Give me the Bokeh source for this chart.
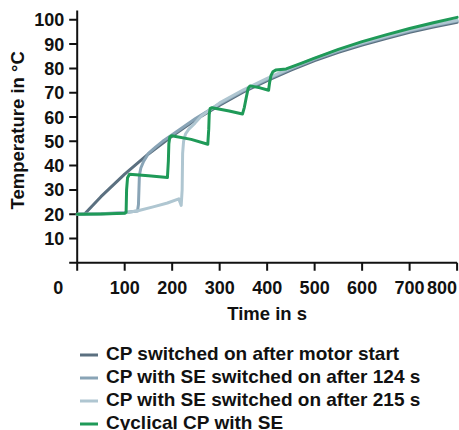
import math
from bokeh.plotting import figure
from bokeh.models import Range1d, Legend, LegendItem
from bokeh.core.properties import value
from bokeh.embed import file_html
from bokeh.resources import INLINE

# ---- data ----
t_dark = [0, 15, 50, 100, 150, 200, 250, 300, 350, 400, 450, 500, 550, 600, 650, 700, 750, 800]
T_dark = [20, 20, 27.2, 36.5, 44.8, 52.2, 59.0, 64.9, 70.3, 75.0, 79.3, 83.2, 86.6, 89.6, 92.3, 94.9, 97.0, 99.0]

t_med = [0, 50, 100, 127, 129, 130, 131, 134, 140, 150, 165, 180, 200, 250, 300, 350, 400, 450, 500, 550, 600, 650, 700, 750, 800]
T_med = [20, 20.2, 20.7, 21.3, 24, 30, 36, 39, 41.8, 45, 47.6, 50, 52.7, 59.5, 65.4, 70.8, 75.5, 79.8, 83.7, 87.1, 90.1, 92.8, 95.4, 97.5, 99.5]

t_light = [0, 50, 100, 130, 160, 190, 214, 219, 221, 222, 224, 228, 235, 248, 262, 300, 350, 400, 450, 500, 550, 600, 650, 700, 750, 800]
T_light = [20, 20.1, 20.5, 21.5, 23, 24.6, 26.3, 23.6, 30, 45, 50, 53, 55, 57.5, 60.5, 65.8, 71.2, 75.9, 80.2, 84.1, 87.5, 90.5, 93.2, 95.8, 97.9, 99.8]

t_green = [0, 50, 100, 103, 104, 106, 110, 150, 190, 192, 193, 195, 199, 240, 275, 277, 278, 280, 284, 320, 348,
           352, 356, 360, 364, 385, 403, 405, 408, 412, 418, 440, 470, 500, 550, 600, 650, 700, 750, 800]
T_green = [20, 20.1, 20.4, 20.8, 30, 35, 36.4, 35.8, 35.1, 42, 49, 51.8, 52.3, 50.8, 48.8, 55, 61, 63.5, 63.8, 62.5, 61.2,
           64, 68, 71.8, 72.8, 72, 71, 74, 77, 78.6, 79.3, 79.8, 82, 84.2, 87.8, 91, 93.8, 96.4, 98.8, 101]

series_names = ["CP switched on after motor start",
                "CP with SE switched on after 124 s",
                "CP with SE switched on after 215 s",
                "Cyclical CP with SE"]
colors = ["#5b7080", "#89a4b6", "#afc6d1", "#1f9a58"]

x_ticks = [0, 100, 200, 300, 400, 500, 600, 700, 800]
y_ticks = [0, 10, 20, 30, 40, 50, 60, 70, 80, 90, 100]
x_title = "Time in s"
y_title = "Temperature in °C"

# ---- layout constants (pixels) ----
W, H = 459, 430
ORIGIN_X, ORIGIN_Y = 76.7, 262.3      # canvas position of (0, 0)
PX_PER_X = 379.9 / 800
PX_PER_Y = 2.43
AXIS_TOP = 103.8
FONT = value("Liberation Sans")
INK = "#111111"

x0 = -ORIGIN_X / PX_PER_X
y1 = ORIGIN_Y / PX_PER_Y
p = figure(width=W, height=H, output_backend="svg", toolbar_location=None,
           x_range=Range1d(x0, x0 + W / PX_PER_X), y_range=Range1d(y1 - H / PX_PER_Y, y1),
           min_border=0, x_axis_type=None, y_axis_type=None)
p.outline_line_color = None
p.grid.visible = False
p.background_fill_color = "white"
p.border_fill_color = "white"

# axes drawn from the tick lists
p.segment(x0=[x_ticks[0]], y0=[y_ticks[0]], x1=[x_ticks[-1]], y1=[y_ticks[0]], line_color=INK, line_width=2)
p.segment(x0=[x_ticks[0]], y0=[y_ticks[0]], x1=[x_ticks[0]], y1=[AXIS_TOP], line_color=INK, line_width=2)
p.ray(x=x_ticks, y=[y_ticks[0]] * len(x_ticks), length=8, length_units="screen", angle=-math.pi / 2,
      line_color=INK, line_width=2)
p.ray(x=[x_ticks[0]] * len(y_ticks), y=y_ticks, length=8, length_units="screen", angle=math.pi,
      line_color=INK, line_width=2)

tick_style = dict(text_font=FONT, text_font_style="bold", text_font_size="18px", text_color=INK,
                  text_baseline="middle")
p.text(x=[x_ticks[0]] * (len(y_ticks) - 1), y=y_ticks[1:], text=[str(v) for v in y_ticks[1:]],
       x_offset=-13, text_align="right", **tick_style)
p.text(x=x_ticks[1:-1], y=[y_ticks[0]] * (len(x_ticks) - 2), text=[str(v) for v in x_ticks[1:-1]],
       y_offset=25, text_align="center", **tick_style)
p.text(x=[x_ticks[0]], y=[y_ticks[0]], text=[str(x_ticks[0])], x_offset=-19, y_offset=25,
       text_align="center", **tick_style)
p.text(x=[x_ticks[-1]], y=[y_ticks[0]], text=[str(x_ticks[-1])], x_offset=0, y_offset=25,
       text_align="right", **tick_style)

title_style = dict(text_font=FONT, text_font_style="bold", text_font_size="18.5px", text_color=INK,
                   text_baseline="middle", text_align="center")
p.text(x=[(x_ticks[0] + x_ticks[-1]) / 2], y=[y_ticks[0]], text=[x_title], y_offset=51, **title_style)
p.text(x=[x_ticks[0]], y=[(y_ticks[0] + y_ticks[-1]) / 2], text=[y_title], x_offset=-60, y_offset=-11,
       angle=math.pi / 2, **title_style)

renderers = []
for tx, ty, c in zip([t_dark, t_med, t_light, t_green], [T_dark, T_med, T_light, T_green], colors):
    r = p.line(tx, ty, line_color=c, line_width=3, line_join="round", line_cap="round")
    renderers.append(r)

legend = Legend(items=[LegendItem(label=n, renderers=[r]) for n, r in zip(series_names, renderers)],
                location=(80, -4), orientation="vertical",
                label_text_font="Liberation Sans", label_text_font_style="bold", label_text_font_size="19px",
                label_text_color=INK, glyph_width=18, glyph_height=21, label_height=21,
                label_standoff=8, spacing=1, padding=0, margin=0,
                border_line_color=None, background_fill_alpha=0)
p.add_layout(legend, "center")

open("out.html", "w").write(file_html(p, INLINE))
